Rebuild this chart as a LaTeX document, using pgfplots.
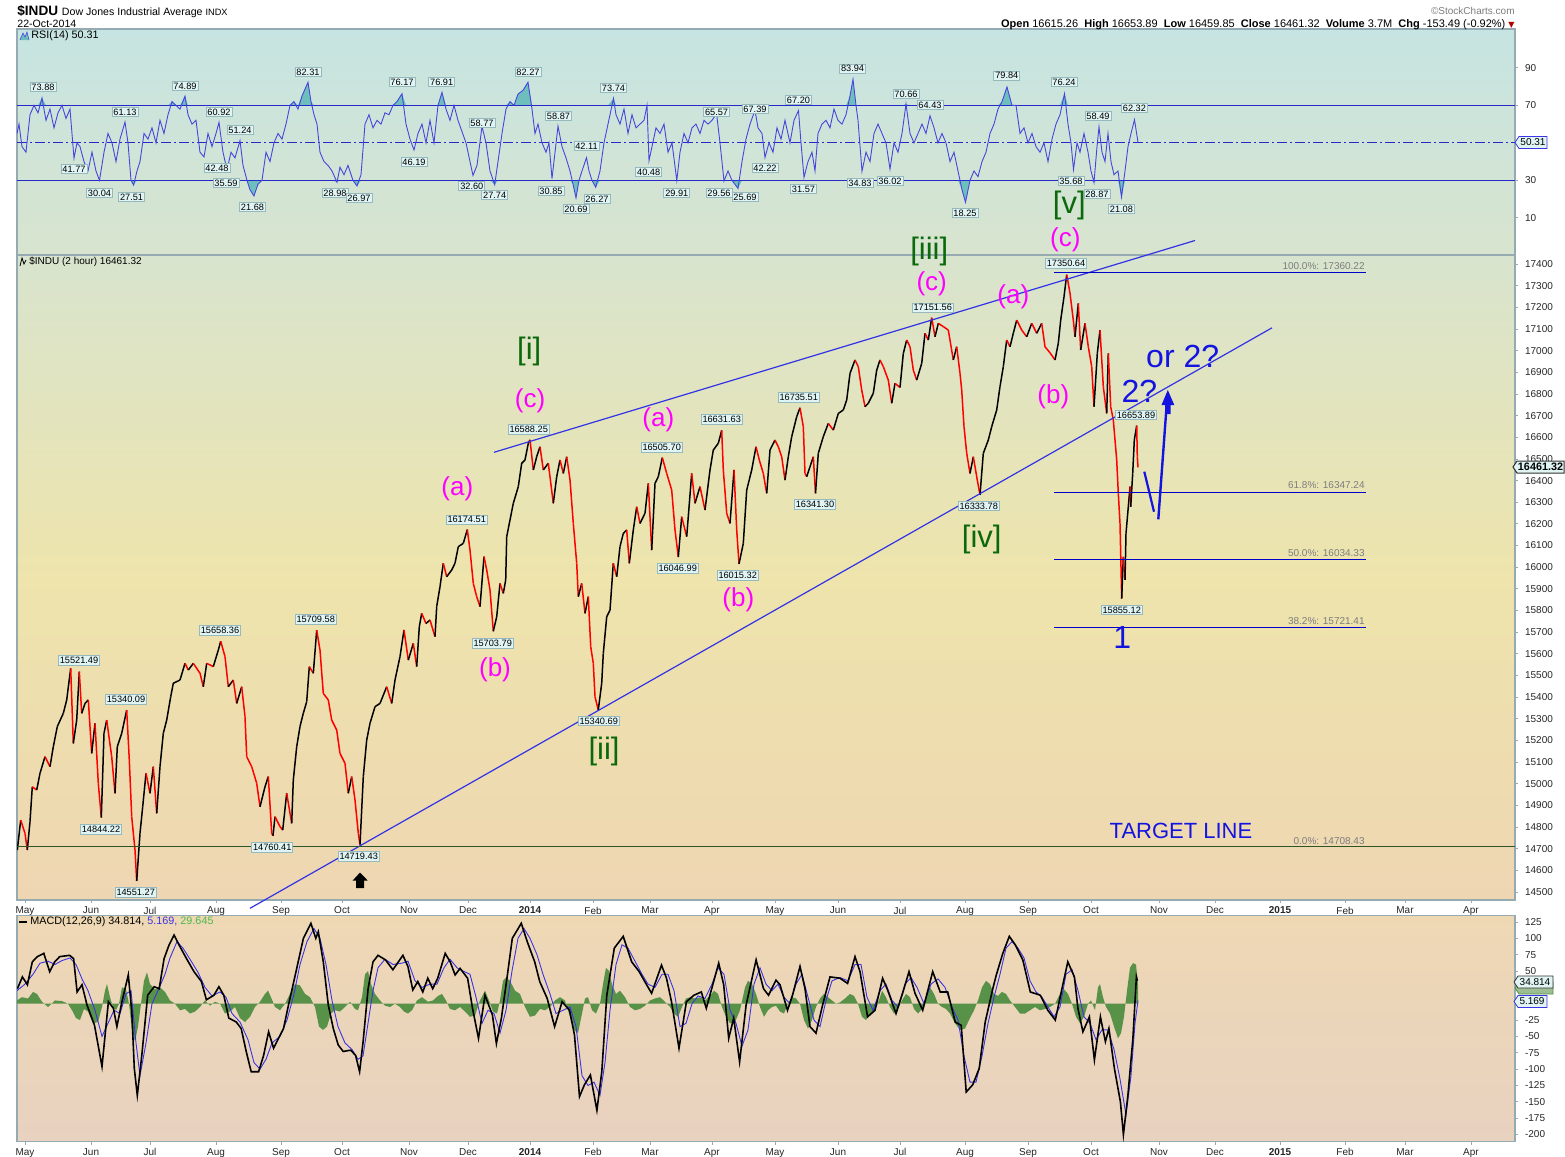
\documentclass[border=0pt]{standalone}
\usepackage{fontspec}
\setmainfont{Liberation Sans}
\newfontfamily\djv{DejaVu Sans}
\usepackage{pgfplots}
\usepackage{pgfplotstable}
\pgfplotsset{compat=1.18}
\usetikzlibrary{arrows.meta}

\definecolor{framec}{RGB}{150,170,178}
\definecolor{rsibgA}{RGB}{198,228,226}
\definecolor{rsibgB}{RGB}{216,228,206}
\definecolor{mainbgA}{RGB}{216,228,206}
\definecolor{mainbgB}{RGB}{238,228,172}
\definecolor{mainbgC}{RGB}{238,214,178}
\definecolor{macdbgA}{RGB}{238,216,180}
\definecolor{macdbgB}{RGB}{232,210,192}
\definecolor{rsiline}{RGB}{40,40,200}
\definecolor{rsicurve}{RGB}{70,70,220}
\definecolor{rsifill}{RGB}{110,190,190}
\definecolor{histg}{RGB}{88,145,72}
\definecolor{sigblue}{RGB}{60,50,230}
\definecolor{wgreen}{RGB}{10,105,10}
\definecolor{wmag}{RGB}{255,0,255}
\definecolor{wblue}{RGB}{20,20,225}
\definecolor{tline}{RGB}{50,50,230}
\definecolor{fibc}{RGB}{0,0,200}
\definecolor{boxfill}{RGB}{224,244,244}
\definecolor{boxdraw}{RGB}{150,185,190}
\definecolor{greytxt}{RGB}{125,125,125}
\definecolor{tgtline}{RGB}{45,85,35}

\pgfplotstableread{
x y m
17.3 14694 0
20.7 14832 1
25 14771 1
27.3 14694 0
30 14825 0
32.3 14986 1
36.7 14971 0
40 15048 0
45 15125 1
50 15079 0
53.3 15171 0
57.3 15264 0
63.3 15325 0
66.7 15387 0
70.7 15533 1
73.3 15186 0
76.7 15294 0
79.3 15518 1
81.7 15325 0
85 15371 0
88.3 15387 1
91.7 15140 0
95 15279 1
98.3 15002 1
101.3 14844 0
104 15233 0
106.7 15294 1
111.7 15125 1
115 14956 0
117.3 15171 0
121.7 15233 0
126.7 15340 1
129.3 15110 1
131.7 14848 1
135 14694 1
136.7 14551 0
140 14771 0
142.7 14894 0
146 15048 1
150 14956 0
153.3 15079 1
156.7 14863 0
160 15079 0
163.3 15233 0
166.7 15294 0
170.7 15402 0
173.3 15464 0
180 15479 0
185 15556 1
188.3 15525 0
193.3 15556 1
200 15510 1
203.3 15448 0
206.7 15556 1
213.3 15541 0
218.3 15617 0
220.7 15658 1
225 15587 1
228.3 15448 0
233.3 15479 1
236.7 15371 0
241.7 15448 1
245 15310 1
246.7 15125 1
251.7 15079 1
256.7 15002 1
260 14894 0
265 14986 0
268.3 15033 1
271.7 14771 1
273 14760 0
275 14848 1
280 14802 1
282.7 14786 0
286.7 14956 1
291.7 14817 0
293.3 15017 0
296.7 15171 0
300 15264 0
303.3 15325 0
306.7 15379 0
309.3 15541 1
313.3 15510 0
316.7 15709 1
320 15617 1
323.3 15417 1
328.3 15387 1
331.7 15294 1
336.7 15248 1
340 15140 1
345 15094 1
348.3 14956 0
351.7 15033 1
355 14925 1
358.3 14771 1
360 14719 0
363.3 15033 0
366.7 15202 0
370 15279 0
375 15356 0
380 15371 0
386.7 15448 1
391.7 15371 0
395 15479 0
400 15587 0
404 15710 1
408.3 15571 0
413.3 15648 1
416.7 15541 0
419.3 15725 0
421.7 15787 1
426 15740 0
430 15756 1
435 15679 0
436.7 15818 0
440 15910 0
443.3 16018 1
446.7 15956 0
451.7 15987 0
455 16018 0
458.3 16095 0
463.3 16110 0
467.3 16174 1
470 16079 1
473.3 15925 1
476.7 15864 1
480 15818 0
484 16049 1
486.7 15987 1
490 15895 1
493.3 15704 0
496.7 15771 0
500 15925 1
503.3 15879 0
505.7 15941 0
506.7 16141 0
510 16218 0
513.3 16295 0
518.3 16372 0
521.7 16480 0
525 16495 0
528.3 16572 0
530 16588 1
533.3 16449 0
536.7 16510 0
540 16556 1
543.3 16449 0
548.3 16480 1
553.3 16295 0
556.7 16418 0
560 16495 1
563.3 16433 0
566.7 16510 1
570 16403 1
573.3 16202 1
576.7 16018 1
578.3 15864 0
581.7 15925 1
585 15787 0
588.3 15864 1
590.7 15633 1
593.3 15556 1
595 15402 1
598.3 15341 0
601.7 15464 0
603.3 15602 0
606.7 15771 0
610 15802 0
613.3 16018 1
616.7 15956 0
620 16095 0
623.3 16156 0
626.7 16172 1
629.3 16018 0
633.3 16172 0
636.7 16279 1
640 16202 0
645 16249 0
648.3 16387 1
651.7 16079 0
655 16387 0
658.3 16418 0
662.3 16506 1
666.7 16433 1
671.7 16356 1
675 16172 1
678.3 16047 0
681.7 16233 1
686.7 16141 0
691.7 16433 1
695 16295 0
700 16372 1
705 16264 0
710 16449 0
713.3 16541 0
718.3 16572 0
721.7 16632 1
723.3 16449 1
726.7 16249 1
730 16202 0
734 16449 1
736.7 16172 1
739 16015 0
743.3 16110 0
746.7 16356 0
751.7 16449 0
756 16556 1
759.3 16495 1
763.3 16433 1
766.7 16341 0
770 16541 0
775 16587 1
778.3 16556 1
781.7 16510 1
785 16402 0
788.3 16510 0
791.7 16603 0
796.7 16695 0
800 16736 1
803.3 16649 1
805 16433 1
806.7 16418 0
810 16464 0
813.3 16510 1
815.5 16341 0
818.3 16526 0
823.3 16603 0
828.3 16664 1
833.3 16633 0
838.3 16710 0
843.3 16726 0
846.7 16772 0
850 16895 0
855 16957 1
858.3 16926 1
861.7 16818 1
865 16741 0
868.3 16757 0
873.3 16803 0
876.7 16910 0
880 16957 1
883.3 16926 1
888.3 16864 1
891.7 16757 0
895 16849 1
900 16830 0
903.3 16987 0
906.7 17049 1
910 17018 1
913.3 16910 1
916.7 16864 0
921.7 16941 0
925 17080 1
928.3 17049 0
931.7 17152 1
935 17064 0
938.3 17126 1
943.3 17111 1
948.3 17095 1
953.3 16957 0
956.7 17018 1
960 16895 1
961.7 16818 1
964 16649 1
966.7 16526 1
970 16433 0
973.3 16510 1
977.3 16402 1
980 16334 0
983.3 16526 0
988.3 16587 0
991.7 16649 0
996.7 16726 0
1000 16834 0
1003.3 16926 0
1006.7 17049 1
1010 17018 0
1013.3 17080 0
1016.7 17141 1
1021.7 17095 1
1026.7 17064 0
1031.7 17126 1
1036.7 17080 0
1041.7 17126 1
1045 17018 1
1050 16990 1
1055 16957 0
1058.3 17034 0
1060.7 17141 0
1064 17249 0
1066.7 17351 1
1070 17265 1
1073.3 17141 1
1075 17064 0
1078.3 17218 1
1080.7 17003 0
1085 17126 1
1088.3 17018 1
1091.7 16926 1
1094 16741 0
1097.3 16987 0
1100 17095 1
1103.3 16834 1
1106.7 16710 0
1108.3 16987 1
1110.7 16741 1
1113.3 16680 1
1116.7 16495 1
1118.3 16341 1
1120 16202 1
1121.7 15855 0
1123.3 16048 1
1125 15941 0
1126 16156 0
1128.3 16279 0
1130 16372 1
1130.7 16279 0
1132.7 16433 0
1134.3 16587 0
1136.7 16654 1
1137.3 16510 1
1138 16461 1
}\pricedata

\pgfplotstableread{
x y
17 55
19 60
22 48
26 45
30 65
34 70
38 66
42 73.9
46 62
50 68
54 58
58 66
62 70
66 63
70 68
74 41.8
77 50
80 48
84 40
88 35
92 45
96 35
99.5 30
104 45
108 55
112 50
116 40
120 52
125 61.1
128 50
131 30
133.6 27.5
137 35
140 40
144 55
148 52
152 58
156 50
160 62
164 55
168 65
172 72
176 70
180 68
185 74.9
188 65
192 60
196 62
200 45
204 42.5
208 55
212 48
216 55
219 60.9
223 45
227 35.6
231 45
235 42
240 51.2
243 38
247 30
250 25
254 21.7
258 28
262 30
266 45
270 40
274 50
278 55
282 52
286 60
290 70
294 72
298 68
302 75
308 82.3
311 72
314 65
317 60
320 45
324 40
328 38
332 35
337 29
340 37
344 33
348 38
353 30
357 27
361 33
365 60
369 65
373 58
377 62
381 60
385 66
389 65
393 70
397 72
402 76.2
406 60
410 52
414 46.2
418 55
422 60
426 50
430 62
434 50
438 70
442 76.9
446 68
450 62
454 70
458 62
462 56
466 50
470 40
473 32.6
477 38
482 58.8
486 50
490 35
494.7 27.7
498 40
502 55
506 68
510 72
514 70
518 76
523 78
528 82.3
532 68
535 55
538 60
542 50
546 45
549 50
552 30.9
558 58.9
562 48
566 42
570 35
573 28
576 20.7
579 30
582 35
586.5 42.1
589 35
592 30
595.7 26.3
600 35
604 50
608 60
613.5 73.7
616 65
620 60
624 68
628 55
632 65
636 58
640 60
644 62
647 70
649 40.5
652 48
656 58
660 55
664 60
668 45
672 50
676.8 29.9
680 45
684 55
688 50
692 58
696 60
700 55
704 62
708 60
712 62
716.6 65.6
720 50
724 29.6
728 35
732 30
738 25.7
742 40
746 52
750 60
755 67.4
758 58
762 55
765 42.2
769 50
773 45
777 58
781 52
785 62
790 50
794 62
798.5 67.2
801 50
804 31.6
808 40
812 45
815 35
818 55
822 60
826 62
830 58
834 68
838 62
842 60
846 65
850 75
853 83.9
856 70
858 62
862 34.8
866 45
870 40
874 55
878 60
882 55
886 50
890 36
894 50
898 45
902 55
906 70.7
910 55
914 50
918 55
922 60
926 55
930 64.4
934 58
938 50
942 55
946 50
950 40
954 45
958 35
962 25
965.5 18.3
970 30
974 35
978 32
982 40
986 45
990 55
994 60
998 68
1002 72
1007 79.8
1012 70
1016 70
1020 55
1024 58
1028 50
1032 55
1036 48
1040 45
1044 50
1048 40
1052 52
1056 60
1060 65
1064.5 76.2
1068 60
1071 50
1073.5 35.7
1077 50
1080 45
1084 55
1088 45
1091 35
1094 28.9
1097 48
1099 58.5
1102 45
1105 40
1108 55
1111 40
1114 33
1118 35
1121.5 21.1
1125 35
1128 48
1131 55
1134.5 62.3
1138 50.3
}\rsidata

\pgfplotstableread{
x y
17.4 23
22.4 41
27.4 29
32.3 64
37.3 72
43.8 77
49.7 49
54.7 64
59.7 72
69.6 74
73.6 69
77.1 18
82 29
87 -2
94.5 -33
102 -96
108.4 3
113.4 -7
116.9 -35
121.9 3
128.3 44
131.8 -12
134.3 -99
137.3 -140
141.8 -79
147.7 13
154.2 26
159.2 23
164.1 69
169.1 90
174.1 105
179 90
186.5 69
194 49
201.4 34
206.4 6
213.9 13
218.9 26
223.8 13
228.8 -22
236.3 -28
241.2 -38
246.2 -73
251.2 -104
258.6 -104
263.6 -79
268.6 -43
273.6 -68
278.5 -53
283.5 -38
288.5 -2
296 49
303.4 100
310.9 123
315.8 100
318.3 110
323.3 64
328.3 -2
333.3 -38
338.2 -63
343.2 -73
350.7 -71
355.6 -79
359.6 -104
363.1 -58
368.1 23
373 64
378 74
385.5 67
392.9 52
402.9 74
407.9 57
412.8 21
417.8 34
422.8 18
427.8 39
432.7 23
437.7 39
445.2 77
450.2 64
455.1 44
460.1 54
467.6 39
472.5 -7
478.5 -53
485 13
492.4 -17
496.4 -61
501.4 -22
507.4 44
512.3 100
521.3 123
527.2 95
534.7 64
539.7 34
547.2 8
554.6 -35
562.1 3
569.5 -10
574.5 -48
579.5 -142
584.4 -124
590.4 -109
596.9 -163
601.8 -104
606.8 13
614.3 85
623.2 103
631.7 64
639.2 49
646.6 29
651.6 16
661.5 59
666.5 39
671.5 3
679 -68
686.4 3
693.9 13
701.3 18
706.3 -7
718.7 62
723.7 29
728.7 -53
733.7 -22
739.6 -89
746.1 -2
756.1 67
763.5 23
768.5 13
776 36
780 29
787.5 -10
792.5 13
800 57
805 23
810 -35
816 -45
822.6 -2
830 41
840 39
847.6 31
855 72
860 49
867.6 -20
875 -10
882.6 39
887.6 21
896 -15
902.6 16
909 49
915 16
922.7 -10
932.7 49
940.2 18
947.7 18
955.2 -28
961.2 -33
966.2 -135
972.7 -124
979.2 -99
985.2 -28
992.8 23
996.3 44
1002.8 77
1009.3 103
1015.3 90
1022.8 67
1030.3 18
1040.3 13
1047.8 -10
1055.3 -25
1062.8 29
1067.8 64
1074.4 41
1077.9 -7
1082.9 -43
1089.4 -20
1094.4 -86
1100.4 -20
1105.4 -58
1108.9 -38
1114.4 -99
1120.4 -150
1123.4 -200
1127.9 -140
1132.9 -53
1136.4 41
1137.4 35
}\macddata

\pgfplotstableread{
x y
17 20
25 30
33 45
40 62
48 65
55 60
62 66
70 70
76 60
82 38
88 20
95 -10
102 -50
108 -30
114 -10
120 -15
126 15
131 20
136 -60
140 -110
146 -60
152 0
158 20
165 45
170 70
177 95
183 85
190 68
198 48
205 25
212 12
220 18
226 10
232 -15
240 -28
248 -55
254 -90
260 -100
266 -85
272 -60
280 -50
287 -25
294 15
300 60
307 95
314 115
320 100
326 60
332 5
338 -35
345 -60
352 -70
358 -85
363 -80
368 -30
373 20
378 55
385 68
393 60
402 62
408 65
415 35
422 25
430 30
437 30
444 55
450 68
457 55
463 50
470 45
476 10
482 -30
488 -10
494 -15
500 -45
506 -10
512 50
518 100
524 115
530 100
537 75
543 45
550 15
556 -15
563 -10
570 -5
576 -35
582 -110
588 -125
594 -120
600 -140
605 -90
610 -10
616 60
622 90
628 85
635 65
642 45
648 30
655 25
662 45
668 45
674 20
680 -35
686 -30
692 0
698 12
705 8
712 30
718 55
724 45
730 -10
736 -30
742 -65
748 -40
754 30
760 55
766 30
772 20
778 30
784 10
790 0
796 30
802 45
808 10
814 -25
820 -35
826 5
832 35
840 40
848 35
855 60
861 60
867 10
873 -10
880 20
886 30
892 5
898 -5
905 30
911 40
917 25
924 0
931 30
938 38
945 25
952 -5
958 -25
964 -80
970 -120
976 -120
982 -80
988 -30
994 10
1000 45
1006 85
1012 95
1018 85
1024 70
1030 35
1036 18
1042 10
1048 -5
1054 -20
1060 -5
1066 45
1072 52
1078 20
1084 -20
1090 -30
1096 -55
1102 -40
1108 -40
1114 -70
1120 -115
1126 -170
1131 -110
1135 -30
1138 5
}\signaldata

\pgfplotstableread{
x y
17 0
17 5
22 10
28 8
33 18
37 15
42 3
48 -5
55 5
62 4
68 0
72 -10
76 -22
80 -25
84 -8
88 -12
93 -30
98 -28
102 -5
105 20
107 30
110 10
113 -5
116 -10
119 0
122 25
126 22
129 0
132 -40
135 -58
138 -35
141 0
144 35
147 48
150 30
155 22
160 25
165 18
170 5
175 0
180 -10
185 -8
190 -15
195 -12
200 -5
205 5
210 -3
215 3
220 0
225 -15
230 -12
235 -5
240 -22
245 -28
250 -20
255 -5
260 3
265 15
268 20
271 10
275 -5
280 -10
285 0
290 15
295 30
300 28
305 15
310 10
315 -5
319 -35
323 -40
327 -35
331 -15
335 -10
340 -12
345 -5
350 3
355 -8
358 -10
362 10
365 45
368 50
371 30
375 15
380 5
385 -3
390 -5
395 0
400 -5
404 -12
408 -15
412 -10
417 5
422 10
428 3
433 5
438 12
442 15
446 5
450 -8
455 -10
460 -5
465 -12
470 -20
475 -18
480 5
485 20
489 5
493 -12
497 -15
500 5
503 35
506 40
510 35
515 20
520 15
525 -5
530 -20
535 -18
540 -8
545 -10
550 -5
555 5
560 10
565 5
570 -20
574 -40
578 -45
582 -15
585 8
588 10
592 -10
596 -15
600 0
603 30
606 55
609 50
612 30
616 15
620 20
625 10
630 -5
635 -10
640 -8
645 -3
650 5
655 8
660 10
665 3
670 -5
674 -15
678 -20
682 -5
686 8
690 10
695 8
700 10
705 5
710 12
714 20
718 15
722 -5
726 -20
730 -30
735 -28
740 -10
745 25
748 35
752 30
756 15
760 -5
764 -20
768 -10
772 -5
776 -3
780 -12
784 -15
788 0
792 10
796 8
800 0
804 -25
808 -38
812 -25
816 -5
820 8
824 15
828 10
832 5
836 0
840 2
845 8
850 15
854 12
858 0
862 -20
866 -25
870 -15
875 -10
879 5
882 20
886 10
890 -5
894 -15
898 -8
902 5
906 15
910 10
914 -8
918 -15
922 -8
926 10
930 25
934 15
938 0
942 -5
946 -8
950 -15
955 -30
960 -40
965 -38
969 -25
974 -10
978 5
982 25
986 35
990 30
994 15
998 12
1002 18
1006 15
1010 5
1015 -5
1020 -15
1025 -15
1030 -10
1035 -5
1040 -10
1045 -8
1050 -5
1055 0
1060 15
1064 22
1068 15
1072 0
1076 -20
1080 -30
1084 -20
1088 0
1091 5
1095 -10
1098 25
1100 30
1103 10
1106 -5
1110 -15
1114 -35
1118 -53
1121 -45
1124 -20
1127 20
1130 55
1133 62
1136 60
1138 30
1138 0
}\histdata

\pgfplotsset{
  panel/.style={
    scale only axis, width=749pt, xmin=17, xmax=1515,
    anchor=south west,
    axis line style={draw=framec, line width=0.6pt},
    tick label style={font=\fontsize{5}{6}\selectfont, text=black!85},
    yticklabel pos=right, ytick pos=right,
    ytick style={draw=framec, line width=0.4pt},
    xtick style={draw=framec, line width=0.4pt},
    major tick length=1.5pt,
    tick align=outside,
    xtick pos=bottom,
    scaled y ticks=false,
    /pgf/number format/1000 sep={},
    /pgf/number format/assume math mode=true,
    clip=true,
  },
  months/.style={
    xtick={25,91,150,216,281,342,409,468,530,593,650,712,775,838,900,965,1028,1091,1159,1215,1280,1345,1405,1471},
    xticklabels={May,Jun,Jul,Aug,Sep,Oct,Nov,Dec,\textbf{2014},Feb,Mar,Apr,May,Jun,Jul,Aug,Sep,Oct,Nov,Dec,\textbf{2015},Feb,Mar,Apr},
    xticklabel style={yshift=1.6pt},
  },
}
\tikzset{
  vbox/.style={fill=boxfill, draw=boxdraw, line width=0.4pt, inner sep=0.7pt,
    font=\fontsize{4.6}{5}\selectfont, text=black},
}

\begin{document}
\begin{tikzpicture}
\path[use as bounding box, fill=white] (0,0) rectangle (782.5pt,-578.5pt);

% ---------------- RSI panel
\begin{axis}[panel, at={(8.5pt,-127.5pt)}, height=113pt,
  ymin=-9.8, ymax=110.7, xtick=\empty, ytick={10,30,70,90},
  axis background/.style={top color=rsibgA, bottom color=rsibgB}]
\addplot[fill=rsifill, draw=none] table[y expr={max(\thisrow{y},70)}] {\rsidata} -- (axis cs:1138,70) -- (axis cs:17,70) -- cycle;
\addplot[fill=rsifill, draw=none] table[y expr={min(\thisrow{y},30)}] {\rsidata} -- (axis cs:1138,30) -- (axis cs:17,30) -- cycle;
\addplot[rsiline, line width=0.55pt] coordinates {(17,70) (1515,70)};
\addplot[rsiline, line width=0.55pt] coordinates {(17,30) (1515,30)};
\addplot[rsiline, line width=0.55pt, dash pattern=on 5pt off 1.5pt on 1pt off 1.5pt] coordinates {(17,50) (1515,50)};
\addplot[rsicurve, line width=0.45pt] table {\rsidata};
\end{axis}

% ---------------- Price panel
\begin{axis}[panel, months, at={(8.5pt,-450pt)}, height=322.5pt,
  ymin=14463.1, ymax=17441.6, ytick={14500,14600,...,17400},
  yticklabel style={/pgf/number format/fixed, /pgf/number format/precision=0},
  colormap={rb}{color=(black) color=(red)},
  point meta min=0, point meta max=1,
  axis background/.style={top color=mainbgA, bottom color=mainbgC, middle color=mainbgB}]
\addplot[mesh, shader=flat corner, point meta=explicit, line width=0.75pt] table[x=x, y=y, meta=m] {\pricedata};
\end{axis}

% ---------------- MACD panel
\begin{axis}[panel, months, at={(8.5pt,-570.75pt)}, height=113pt,
  ymin=-210.7, ymax=134.9,
  ytick={125,100,75,50,-25,-50,-75,-100,-125,-150,-175,-200},
  axis background/.style={top color=macdbgA, bottom color=macdbgB}]
\addplot[fill=histg, draw=none] table {\histdata};
\addplot[sigblue, line width=0.45pt] table {\signaldata};
\addplot[black, line width=0.8pt] table {\macddata};
\end{axis}

% ---------------- annotations in reference pixel units
\begin{scope}[x=0.5pt, y=-0.5pt]
% header
\node[anchor=base west, inner sep=0] at (17,15) {\fontsize{6.8}{7}\selectfont\bfseries \$INDU \fontsize{5.3}{6}\mdseries\selectfont Dow Jones Industrial Average \fontsize{4.6}{5}\selectfont INDX};
\node[anchor=base west, inner sep=0] at (17,27) {\fontsize{5.3}{6}\selectfont 22-Oct-2014};
\node[anchor=base east, inner sep=0, text=greytxt] at (1515,14) {\fontsize{5}{6}\selectfont\copyright StockCharts.com};
\node[anchor=base east, inner sep=0] at (1515,27) {\fontsize{5.5}{6}\selectfont \textbf{Open} 16615.26\ \ \textbf{High} 16653.89\ \ \textbf{Low} 16459.85\ \ \textbf{Close} 16461.32\ \ \textbf{Volume} 3.7M\ \ \textbf{Chg} -153.49 (-0.92\%) {\djv\color{red!70!black}\fontsize{4}{5}\selectfont ▼}};

% panel legends
\fill[rsifill] (20,40) -- (23,33) -- (25,37) -- (27,32) -- (29,40) -- cycle;
\draw[rsicurve, line width=0.3pt] (20,40) -- (23,33) -- (25,37) -- (27,32) -- (29,40);
\node[anchor=west, inner sep=0] at (31,36) {\fontsize{5.4}{6}\selectfont RSI(14) 50.31};
\draw[black, line width=0.4pt] (20,266) -- (22,258) -- (24,264) -- (26,260);
\node[anchor=west, inner sep=0] at (29,262) {\fontsize{5}{6}\selectfont \$INDU (2 hour) 16461.32};
\fill[black] (19,920.5) rectangle (27,923);
\node[anchor=west, inner sep=0] at (30,922) {\fontsize{5.4}{6}\selectfont MACD(12,26,9) 34.814, {\color{sigblue}5.169,} {\color{green!60!black!70}29.645}};

% right value boxes
\filldraw[fill=boxfill, draw=sigblue, line width=0.4pt] (1515,142.5) -- (1519,136.5) -- (1547,136.5) -- (1547,148.5) -- (1519,148.5) -- cycle;
\node[inner sep=0] at (1533,142.5) {\fontsize{5}{6}\selectfont 50.31};
\filldraw[fill=boxfill, draw=black!80, line width=0.5pt] (1513,467) -- (1517,461) -- (1564,461) -- (1564,473) -- (1517,473) -- cycle;
\node[inner sep=0] at (1540.5,467) {\fontsize{5.4}{6}\selectfont\bfseries 16461.32};
\filldraw[fill=histg!60!white, draw=histg, line width=0.4pt] (1515,988) -- (1519,982) -- (1553,982) -- (1553,994) -- (1519,994) -- cycle;
\filldraw[fill=boxfill, draw=black!80, line width=0.4pt] (1514,982) -- (1518,976) -- (1553,976) -- (1553,988) -- (1518,988) -- cycle;
\node[inner sep=0] at (1535,982) {\fontsize{5}{6}\selectfont 34.814};
\filldraw[fill=boxfill, draw=sigblue, line width=0.4pt] (1514,1001.5) -- (1518,995.5) -- (1547,995.5) -- (1547,1007.5) -- (1518,1007.5) -- cycle;
\node[inner sep=0] at (1532,1001.5) {\fontsize{5}{6}\selectfont 5.169};

% trend lines
\draw[tline, line width=0.6pt] (494,452.3) -- (1195,240.5);
\draw[tline, line width=0.6pt] (250,908.3) -- (1272,327.8);

% fibonacci lines
\draw[fibc, line width=0.5pt] (1054,272.6) -- (1366,272.6);
\draw[fibc, line width=0.5pt] (1054,492) -- (1366,492);
\draw[fibc, line width=0.5pt] (1054,559.7) -- (1366,559.7);
\draw[fibc, line width=0.5pt] (1054,627.5) -- (1366,627.5);
\draw[tgtline, line width=0.5pt] (17,846.8) -- (1515,846.8);
\begin{scope}[every node/.style={anchor=base east, inner sep=0, text=greytxt, font=\fontsize{5}{6}\selectfont}]
\node at (1365,269.5) {100.0\%: 17360.22};
\node at (1365,488.5) {61.8\%: 16347.24};
\node at (1365,556.5) {50.0\%: 16034.33};
\node at (1365,624.5) {38.2\%: 15721.41};
\node at (1365,844) {0.0\%: 14708.43};
\end{scope}

% price value labels
\node[vbox] at (79,660.3) {15521.49};
\node[vbox] at (126,699.3) {15340.09};
\node[vbox] at (101,829.3) {14844.22};
\node[vbox] at (135.7,892.3) {14551.27};
\node[vbox] at (220,630.3) {15658.36};
\node[vbox] at (315.7,619.3) {15709.58};
\node[vbox] at (272.3,847.3) {14760.41};
\node[vbox] at (358.7,856.3) {14719.43};
\node[vbox] at (466.7,519.7) {16174.51};
\node[vbox] at (492.7,643.3) {15703.79};
\node[vbox] at (528.7,429.3) {16588.25};
\node[vbox] at (598.7,721) {15340.69};
\node[vbox] at (661.7,447.3) {16505.70};
\node[vbox] at (677.7,568.3) {16046.99};
\node[vbox] at (721.7,419.3) {16631.63};
\node[vbox] at (737.7,575.3) {16015.32};
\node[vbox] at (798.7,397.3) {16735.51};
\node[vbox] at (815,504.3) {16341.30};
\node[vbox] at (932.7,307.7) {17151.56};
\node[vbox] at (978.7,506) {16333.78};
\node[vbox] at (1066,263.3) {17350.64};
\node[vbox] at (1136,415) {16653.89};
\node[vbox] at (1121.7,610) {15855.12};

% RSI value labels
\node[vbox] at (43,87) {73.88};
\node[vbox] at (74,169) {41.77};
\node[vbox] at (99.5,193) {30.04};
\node[vbox] at (125,112) {61.13};
\node[vbox] at (131.6,197) {27.51};
\node[vbox] at (185,86) {74.89};
\node[vbox] at (219,112) {60.92};
\node[vbox] at (217,168) {42.48};
\node[vbox] at (226,183) {35.59};
\node[vbox] at (240,130) {51.24};
\node[vbox] at (252.5,207) {21.68};
\node[vbox] at (308,72) {82.31};
\node[vbox] at (335,193) {28.98};
\node[vbox] at (359,198) {26.97};
\node[vbox] at (402,82) {76.17};
\node[vbox] at (414,162) {46.19};
\node[vbox] at (441.7,82) {76.91};
\node[vbox] at (482,123) {58.77};
\node[vbox] at (471.8,186) {32.60};
\node[vbox] at (494.7,195) {27.74};
\node[vbox] at (528,72) {82.27};
\node[vbox] at (558.5,116) {58.87};
\node[vbox] at (551,191) {30.85};
\node[vbox] at (586.5,146) {42.11};
\node[vbox] at (576,209) {20.69};
\node[vbox] at (597,199) {26.27};
\node[vbox] at (613.5,88) {73.74};
\node[vbox] at (648.7,172) {40.48};
\node[vbox] at (676.8,193) {29.91};
\node[vbox] at (716.6,112) {65.57};
\node[vbox] at (719,193) {29.56};
\node[vbox] at (745,197) {25.69};
\node[vbox] at (755,109) {67.39};
\node[vbox] at (765,168) {42.22};
\node[vbox] at (798.5,100) {67.20};
\node[vbox] at (803.5,189) {31.57};
\node[vbox] at (852.6,68.7) {83.94};
\node[vbox] at (860,183) {34.83};
\node[vbox] at (890,181) {36.02};
\node[vbox] at (906,94) {70.66};
\node[vbox] at (930,105) {64.43};
\node[vbox] at (965,213) {18.25};
\node[vbox] at (1006.8,75.7) {79.84};
\node[vbox] at (1064,82) {76.24};
\node[vbox] at (1071,181) {35.68};
\node[vbox] at (1097,194) {28.87};
\node[vbox] at (1098,116) {58.49};
\node[vbox] at (1121.4,209) {21.08};
\node[vbox] at (1134.4,108) {62.32};

% wave labels
\begin{scope}[every node/.style={inner sep=0, text=wmag, font=\fontsize{13}{13}\selectfont}]
\node at (457.3,488.3) {(a)};
\node at (495,670) {(b)};
\node at (530,401) {(c)};
\node at (658.3,420) {(a)};
\node at (738.3,599.3) {(b)};
\node at (931.7,283.3) {(c)};
\node at (1013.3,296.7) {(a)};
\node at (1053.3,396.7) {(b)};
\node at (1065.3,240) {(c)};
\end{scope}
\begin{scope}[every node/.style={inner sep=0, text=wgreen, font=\fontsize{15.5}{16}\selectfont}]
\node at (529.3,351) {[i]};
\node at (604,751) {[ii]};
\node at (929.3,251) {[iii]};
\node at (981.7,539) {[iv]};
\node at (1069.3,205) {[v]};
\end{scope}
\begin{scope}[every node/.style={inner sep=0, text=wblue, font=\fontsize{16}{16}\selectfont}]
\node at (1139.3,391.7) {2?};
\node at (1182.7,356.7) {or 2?};
\node at (1122.3,637.3) {1};
\end{scope}
\node[inner sep=0, text=wblue, font=\fontsize{11}{11}\selectfont] at (1181,831) {TARGET LINE};

% projected path arrows
\draw[wblue, line width=1.1pt] (1144.3,471.7) -- (1154,511.7);
\draw[wblue, line width=1.2pt] (1158.3,519.3) -- (1166.8,403);
\fill[wblue] (1161.5,405) -- (1167.8,390) -- (1174.3,405) -- (1170.5,405) -- (1170.5,414) -- (1165,414) -- (1165,405) -- cycle;

% black up arrow
\fill[black] (352.7,880.5) -- (360,872.5) -- (367.7,880.5) -- (364,880.5) -- (364,888) -- (356,888) -- (356,880.5) -- cycle;
\end{scope}
\end{tikzpicture}
\end{document}
